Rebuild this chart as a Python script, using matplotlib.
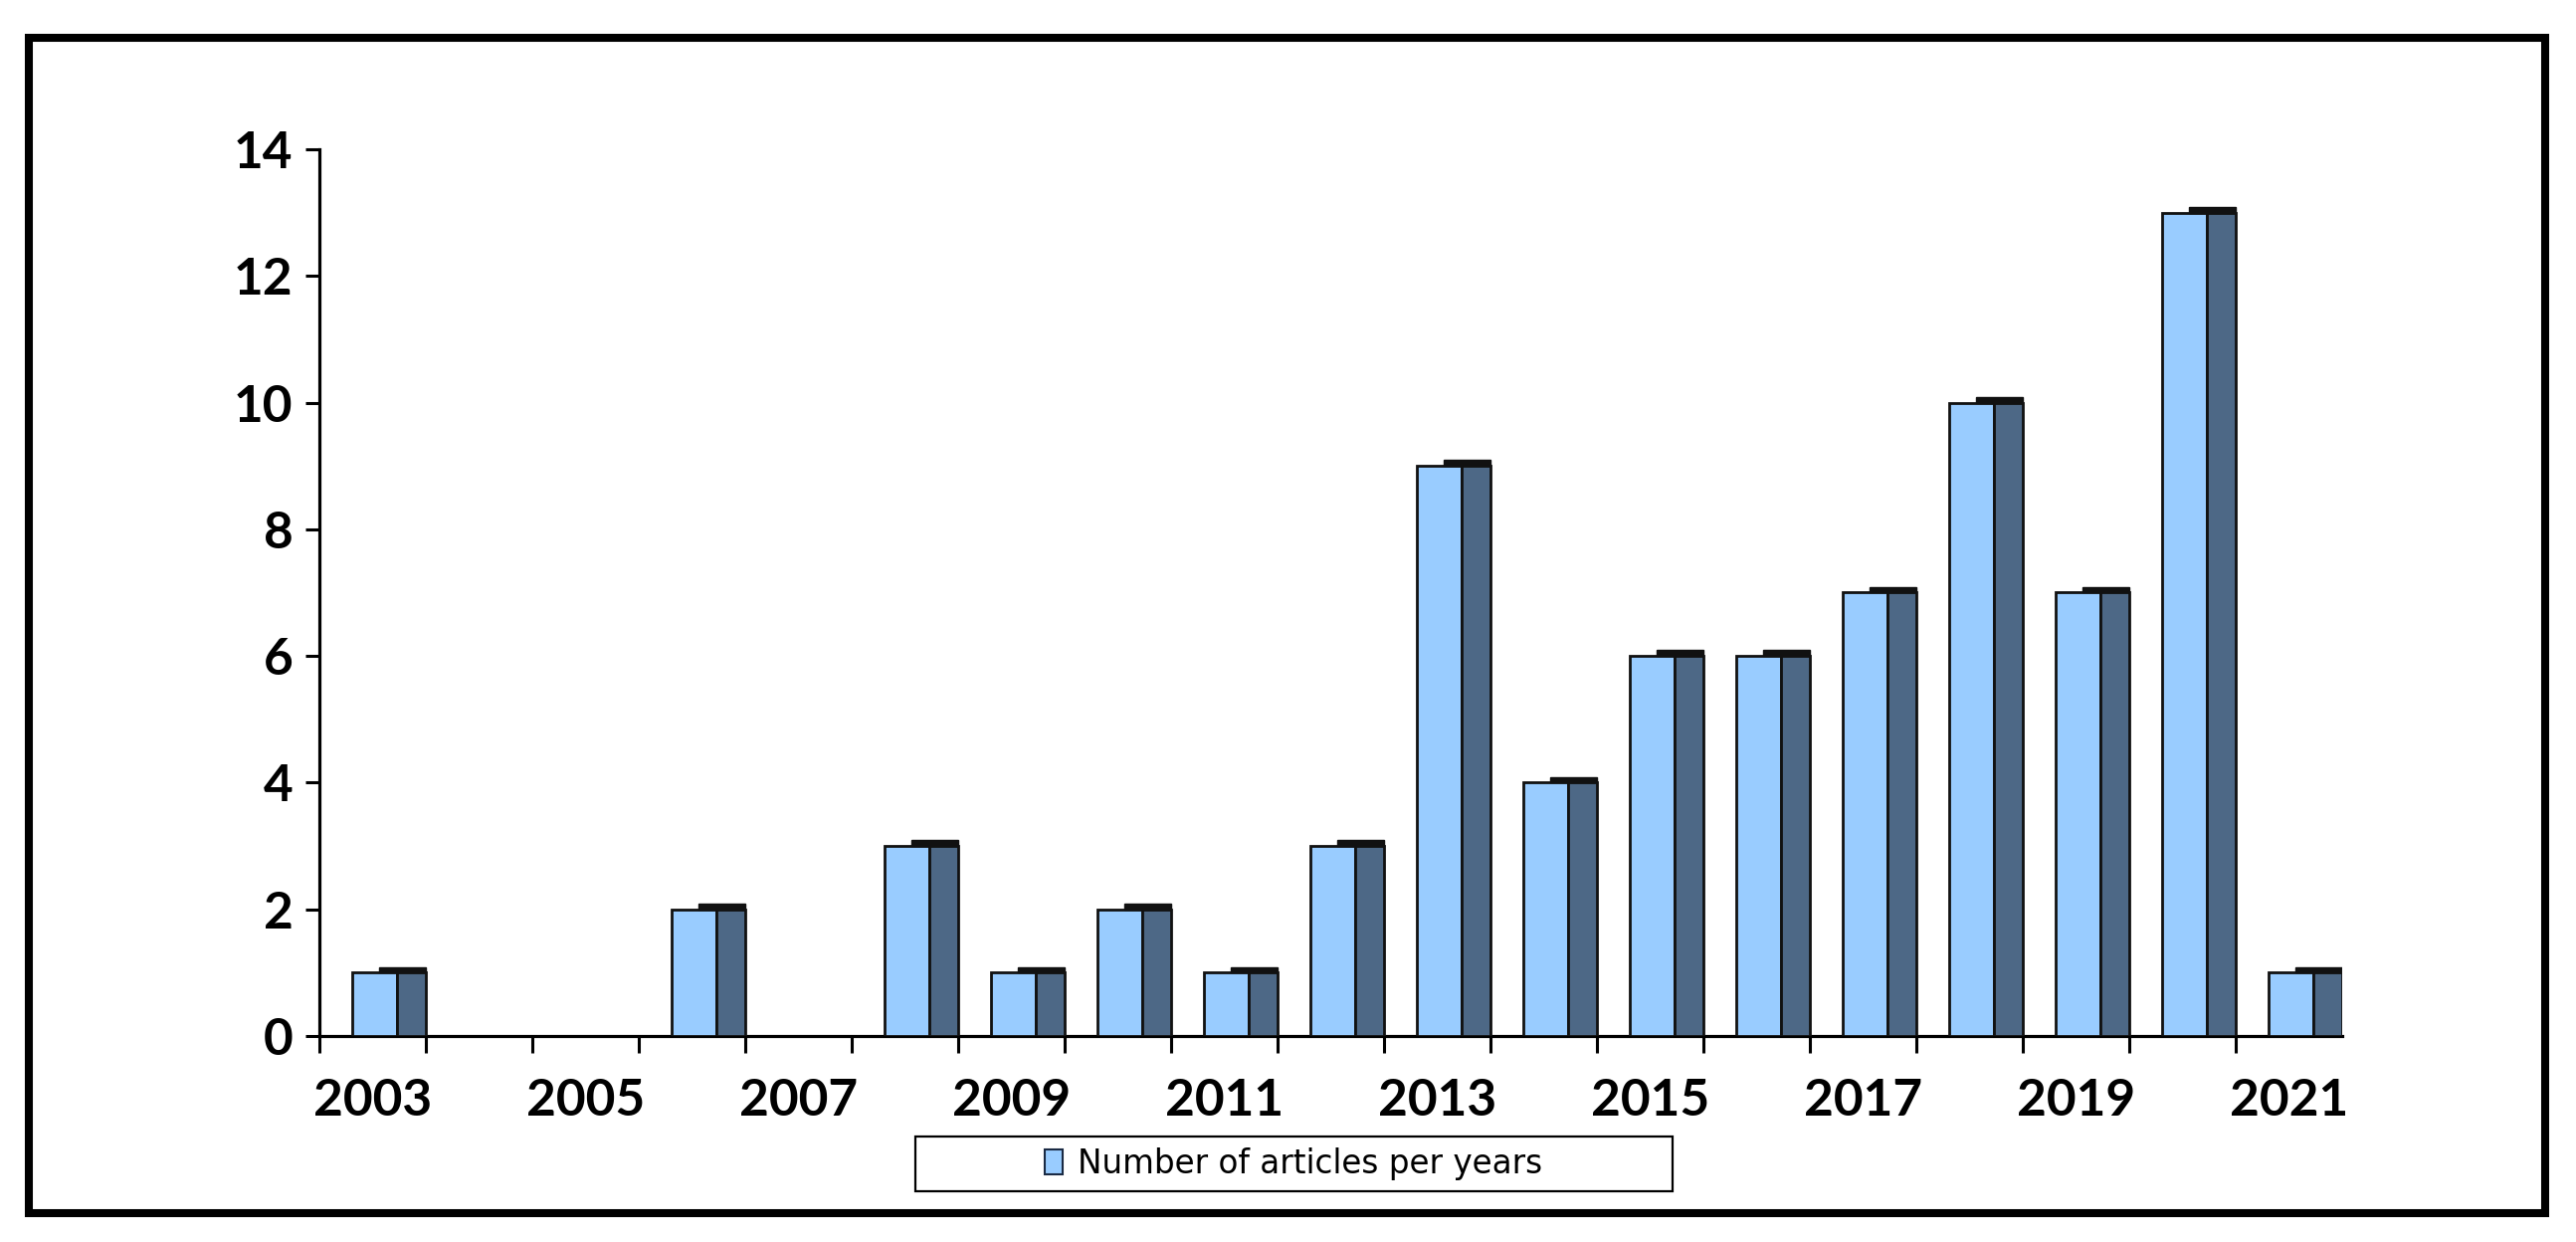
#!/usr/bin/env python3
"""Number of articles per year - 3D-style column chart."""

import numpy as np
import matplotlib
matplotlib.use("Agg")
import matplotlib.pyplot as plt
from matplotlib.patches import Rectangle, Patch

years = list(range(2003, 2022))
articles = [1, 0, 0, 2, 0, 3, 1, 2, 1, 3, 9, 4, 6, 6, 7, 10, 7, 13, 1]
year_labels = [str(y) if (y - 2003) % 2 == 0 else "" for y in years]
legend_label = "Number of articles per years"

FRONT = "#99CCFF"
SIDE = "#4d6886"


def main():
    plt.rcParams["font.family"] = ["Lato", "DejaVu Sans"]

    fig = plt.figure(figsize=(25.89, 12.48), dpi=100)
    ax = fig.add_axes([0.124, 0.1659, 0.7852, 0.7139])

    x = np.arange(len(years))
    vals = np.array(articles, dtype=float)
    has = vals > 0

    # front face, side face and dark top cap of each column
    ax.bar(x[has] - 0.5 + 0.31, vals[has], width=0.42, align="edge",
           color=FRONT, edgecolor="#111111", linewidth=2, zorder=3)
    ax.bar(x[has] - 0.5 + 0.73, vals[has], width=0.27, align="edge",
           color=SIDE, edgecolor="#111111", linewidth=2, zorder=3)
    ax.bar(x[has] - 0.5 + 0.56, 0.09, bottom=vals[has], width=0.44,
           align="edge", color="#111111", edgecolor="#111111",
           linewidth=1, zorder=3)

    ax.set_xlim(-0.5, len(years) - 0.5)
    ax.set_ylim(0, 14)
    ax.set_yticks(np.arange(0, 15, 2))

    ax.set_xticks(x)
    ax.set_xticklabels(year_labels)
    ax.set_xticks(np.arange(len(years)) - 0.5, minor=True)
    ax.tick_params(axis="x", which="major", length=0, pad=30,
                   labelsize=37)
    ax.tick_params(axis="x", which="minor", length=12, width=2.2,
                   direction="out", color="black")
    ax.tick_params(axis="y", which="major", length=10, width=2.2,
                   direction="out", pad=9, labelsize=37)
    for lab in ax.get_xticklabels() + ax.get_yticklabels():
        lab.set_fontweight("bold")

    for side in ("top", "right"):
        ax.spines[side].set_visible(False)
    for side in ("left", "bottom"):
        ax.spines[side].set_linewidth(2.3)
        ax.spines[side].set_color("black")

    # outer frame around the whole chart
    fig.patches.append(Rectangle((0.0112, 0.0232), 0.9768, 0.9463,
                                 transform=fig.transFigure, fill=False,
                                 edgecolor="black", linewidth=5.8))

    # legend box
    fig.patches.append(Rectangle((920 / 2589, (1248 - 1197) / 1248),
                                 761 / 2589, 55 / 1248,
                                 transform=fig.transFigure, fill=False,
                                 edgecolor="black", linewidth=1.6))
    handle = Patch(facecolor=FRONT, edgecolor="#1a2a44", linewidth=1.5)
    fig.legend([handle], [legend_label], loc="center",
               bbox_to_anchor=(1300 / 2589, (1248 - 1169) / 1248),
               frameon=False, handlelength=0.55,
               handleheight=0.8, handletextpad=0.45,
               prop={"family": ["DejaVu Sans"], "size": 23.5})

    fig.savefig("out.png", dpi=100, facecolor="white")
    plt.close(fig)


if __name__ == "__main__":
    main()
